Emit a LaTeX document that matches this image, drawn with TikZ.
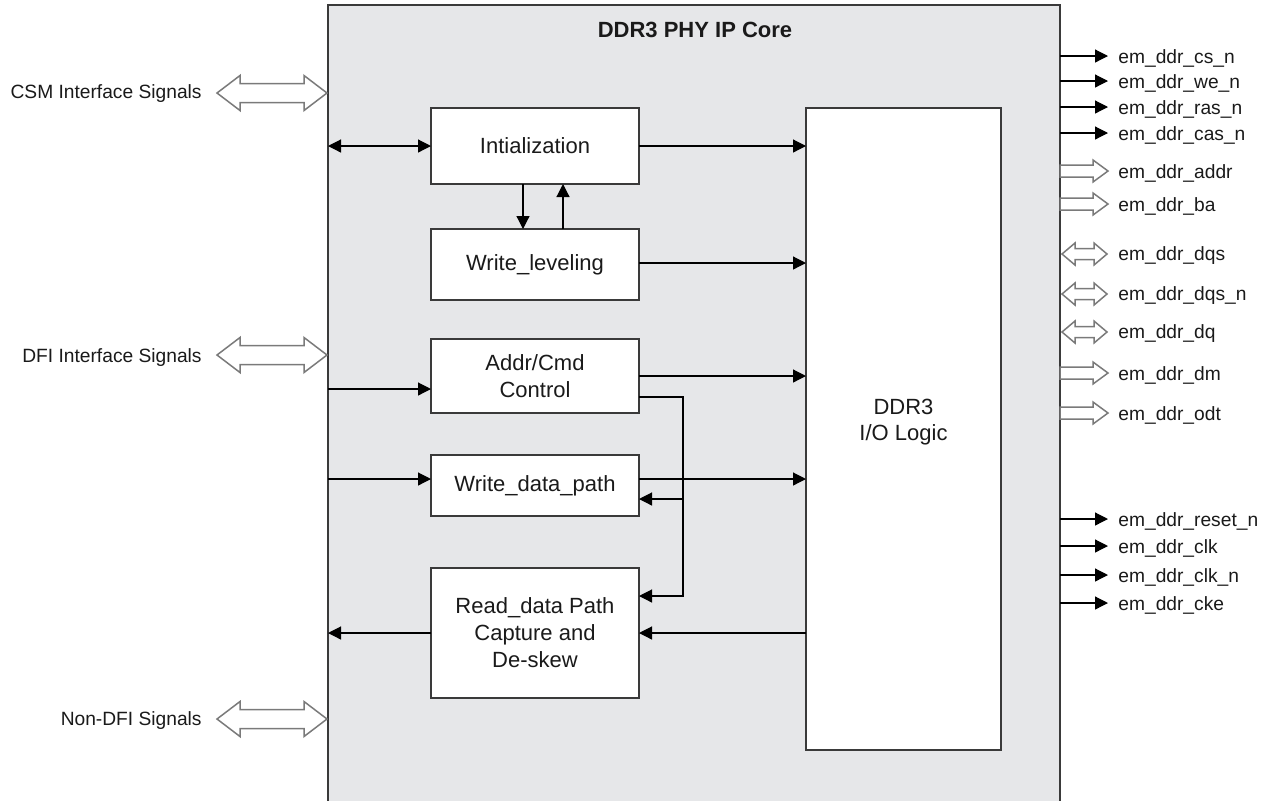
\documentclass[tikz,border=0pt]{standalone}
\usepackage{fontspec}
\setmainfont{Liberation Sans}
\usetikzlibrary{arrows.meta}
\definecolor{coregray}{HTML}{E6E7E9}
\definecolor{edgecol}{HTML}{3A3A3A}
\definecolor{hollowcol}{HTML}{7A7A7A}
\definecolor{txtcol}{HTML}{1A1A1A}
% single-headed hollow arrow: x1, x2, y
\newcommand\hollowone[3]{%
  \draw[hollowarrow] (#1,#3-6) -- (#2-15,#3-6) -- (#2-15,#3-11) -- (#2,#3)
    -- (#2-15,#3+11) -- (#2-15,#3+6) -- (#1,#3+6) -- cycle;}
% double-headed hollow arrow: x1, x2, y, head length, half shaft, half head
\newcommand\hollowtwo[6]{%
  \draw[hollowarrow] (#1,#3) -- (#1+#4,#3-#6) -- (#1+#4,#3-#5) -- (#2-#4,#3-#5)
    -- (#2-#4,#3-#6) -- (#2,#3) -- (#2-#4,#3+#6) -- (#2-#4,#3+#5)
    -- (#1+#4,#3+#5) -- (#1+#4,#3+#6) -- cycle;}
\begin{document}
\begin{tikzpicture}[x=0.5pt,y=-0.5pt,
  corebox/.style={draw=edgecol,line width=0.6pt,fill=coregray,rectangle,inner sep=0pt,outer sep=0pt},
  blockbox/.style={draw=edgecol,line width=0.6pt,fill=white,rectangle,inner sep=0pt,outer sep=0pt,
     minimum width=104pt,align=center,text=txtcol,font=\fontsize{11}{13.5}\selectfont},
  wire/.style={line width=0.6pt,draw=black},
  tip/.style={-{Triangle[length=6.5pt,width=6.5pt]}},
  tips/.style={{Triangle[length=6.5pt,width=6.5pt]}-{Triangle[length=6.5pt,width=6.5pt]}},
  hollowarrow/.style={draw=hollowcol,line width=0.75pt,fill=white,line join=miter},
  siglbl/.style={anchor=west,inner xsep=5pt,inner ysep=0pt,text=txtcol,font=\fontsize{9.6}{11}\selectfont},
  leftlbl/.style={anchor=east,inner xsep=7.5pt,inner ysep=0pt,text=txtcol,font=\fontsize{9.6}{11}\selectfont}]
\useasboundingbox (0,0) rectangle (1270,800);
\fill[white] (0,0) rectangle (1270,800);

% core
\node[corebox,minimum width=366pt,minimum height=402.5pt] (core) at (694,407.5) {};
\node[text=txtcol,font=\fontsize{11}{13}\selectfont\bfseries] (title) at (695,30) {DDR3 PHY IP Core};

% blocks
\node[blockbox,minimum height=38pt] (init) at (535,146) {Intialization};
\node[blockbox,minimum height=35.5pt] (wl) at (535,264.5) {Write\_leveling};
\node[blockbox,minimum height=37pt] (ac) at (535,376) {Addr/Cmd\\Control};
\node[blockbox,minimum height=30.5pt] (wdp) at (535,485.5) {Write\_data\_path};
\node[blockbox,minimum height=65pt] (rdp) at (535,633) {Read\_data Path\\Capture and\\De-skew};
\node[blockbox,minimum width=97.5pt,minimum height=321pt] (io) at (903.5,429) {};
\node[text=txtcol,align=center,font=\fontsize{11}{13}\selectfont] (iolbl) at (903.5,422) {DDR3\\I/O Logic};

% left labels
\node[leftlbl] (csm) at (217,94) {CSM Interface Signals};
\node[leftlbl] (dfi) at (217,358) {DFI Interface Signals};
\node[leftlbl] (ndfi) at (217,721) {Non-DFI Signals};
\hollowtwo{217}{327}{93}{23}{9.5}{17.5}
\hollowtwo{217}{327}{355}{23}{9.5}{17.5}
\hollowtwo{217}{327}{719}{23}{9.5}{17.5}

% internal connectors
\draw[wire,tips] (init.west -| core.west) -- (init.west);
\draw[wire,tip] (init.east) -- (init.east -| io.west);
\draw[wire,tip] ([xshift=-6pt]init.south) -- ([xshift=-6pt]wl.north);
\draw[wire,tip] ([xshift=14pt]wl.north) -- ([xshift=14pt]init.south);
\draw[wire,tip] ([yshift=0.75pt]wl.east) -- ([yshift=0.75pt]wl.east -| io.west);
\draw[wire,tip] (ac.east) -- (ac.east -| io.west);
\draw[wire,tip] ([yshift=-6.5pt]ac.west -| core.west) -- ([yshift=-6.5pt]ac.west);
\draw[wire,tip] ([yshift=3.25pt]wdp.west -| core.west) -- ([yshift=3.25pt]wdp.west);
\draw[wire,tip] ([yshift=3.25pt]wdp.east) -- ([yshift=3.25pt]wdp.east -| io.west);
\coordinate (ja) at (683,397);
\coordinate (jb) at (683,596);
\coordinate (jc) at (683,499);
\draw[wire,tip] (ac.east |- ja) -- (ja) -- (jb) -- (jb -| rdp.east);
\draw[wire,tip] (jc) -- (jc -| wdp.east);
\draw[wire,tip] (rdp.east -| io.west) -- (rdp.east);
\draw[wire,tip] (rdp.west) -- (rdp.west -| core.west);

% right signals (solid)
\foreach \nm/\yy/\tx in {cs/56/em\_ddr\_cs\_n, we/81/em\_ddr\_we\_n, ras/107/em\_ddr\_ras\_n,
   cas/133/em\_ddr\_cas\_n, rst/519/em\_ddr\_reset\_n, clk/546/em\_ddr\_clk,
   clkn/575/em\_ddr\_clk\_n, cke/603/em\_ddr\_cke}{
  \coordinate (p\nm) at (1108,\yy);
  \node[siglbl] (s\nm) at (1108,\yy+2) {\tx};
  \draw[wire,tip] (p\nm -| core.east) -- (p\nm);
}
% right signals (hollow)
\foreach \nm/\yy/\tx in {addr/171/em\_ddr\_addr, ba/204/em\_ddr\_ba,
   dm/373/em\_ddr\_dm, odt/413/em\_ddr\_odt}{
  \node[siglbl] (s\nm) at (1108,\yy+2) {\tx};
  \hollowone{1060}{1108}{\yy}
}
\foreach \nm/\yy/\tx in {dqs/254/em\_ddr\_dqs, dqsn/294/em\_ddr\_dqs\_n, dq/332/em\_ddr\_dq}{
  \node[siglbl] (s\nm) at (1108,\yy+2) {\tx};
  \hollowtwo{1062}{1107}{\yy}{13}{5.5}{11}
}
\end{tikzpicture}
\end{document}
